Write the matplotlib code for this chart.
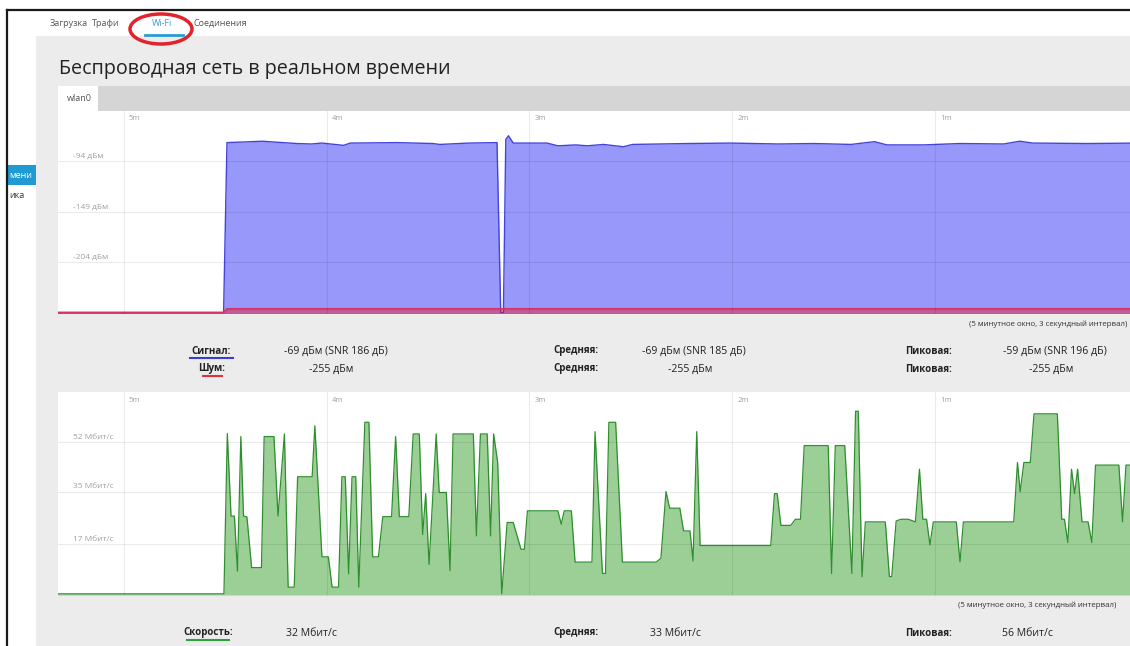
import matplotlib.pyplot as plt
from matplotlib.patches import Rectangle, Ellipse

plt.rcParams['font.family'] = ['Open Sans', 'DejaVu Sans']

W, H = 1130, 646

# time axis runs in seconds before "now"
minute_ticks = [300, 240, 180, 120, 60]
minute_labels = ['5m', '4m', '3m', '2m', '1m']

# wireless signal, dBm
signal_t = [320, 270.5, 269.5, 259, 255.1, 248.8, 244.5, 241.4, 235, 233,
            219.2, 208.6, 206.5, 198, 189.6, 188.5, 187.7, 187, 186.2, 184.8,
            174.8, 171.6, 166.3, 162.9, 158.1, 152.2, 149.5, 133.3, 120.4, 106.4,
            95.7, 84.9, 77.9, 74.2, 63.4, 52.6, 39.7, 34.9, 31.1, 15,
            0]
signal_dbm = [-259, -259, -73.5, -72, -73, -74.5, -75, -74, -76.5, -74,
              -73.5, -74.5, -75.5, -74, -73.5, -259, -259, -70, -66, -74,
              -74, -77, -76, -77, -75.5, -78, -75.5, -74.5, -74, -75,
              -74.5, -75.5, -72.5, -76, -76, -74.5, -75, -72, -74, -74.5,
              -74]

# noise floor, dBm
noise_t = [320, 270.5, 269.5, 0]
noise_dbm = [-259, -259, -255, -255]

dbm_ticks = [-94, -149, -204]
dbm_labels = ['-94 дБм', '-149 дБм', '-204 дБм']

# link rate, Mbit/s
rate_t = [320, 270.4, 269.4, 268.3, 267.3, 266.4, 265.4, 264.6, 263.6, 262.2,
          259.3, 258.5, 255.6, 254.4, 252.5, 251.4, 249.6, 248.6, 244.3, 243.5,
          241.4, 239.5, 238.4, 236.5, 235.5, 234.5, 233.5, 232.5, 231.4, 230.5,
          228.7, 227.5, 226.4, 224.7, 223.4, 220.8, 219.6, 218.5, 215.7, 214.4,
          212.6, 211.6, 210.7, 209.7, 207.6, 206.7, 204.6, 203.5, 202.6, 196.6,
          195.7, 194.5, 192.5, 191.5, 190.6, 189.4, 188.2, 186.6, 184.8, 182.5,
          181.5, 180.6, 171.6, 170.6, 169.7, 167.6, 166.5, 161.5, 160.6, 158.4,
          157.5, 156.5, 154.5, 152.5, 142.5, 141.1, 139.6, 138.5, 135.5, 134.4,
          132.5, 131.6, 130.5, 129.5, 108.6, 107.5, 106.7, 105.6, 102.7, 101.3,
          99.8, 98.7, 91.6, 90.6, 89.5, 86.7, 84.6, 83.5, 82.7, 81.6,
          80.6, 74.7, 73.5, 72.8, 71.5, 70.1, 67.9, 65.8, 64.6, 63.6,
          62.5, 61.5, 60.5, 53.7, 52.6, 51.6, 36.7, 35.6, 34.8, 33.7,
          31.8, 30.7, 23.8, 22.5, 21.7, 20.7, 19.6, 18.7, 17.8, 16.5,
          14.7, 13.6, 12.5, 5.6, 4.5, 3.5, 0]
rate_mbit = [0, 0, 55, 26.7, 26.7, 7.8, 54, 26.7, 26.4, 9,
             9, 54, 54, 26.7, 54.9, 2.3, 2.3, 40.2, 40.2, 57.7,
             12.7, 12.7, 2.3, 2.3, 40.2, 40.2, 6.9, 40.2, 40.2, 2.3,
             58.9, 58.9, 12.7, 12.7, 26.5, 26.5, 54, 26.5, 26.5, 54.9,
             54.9, 20.4, 34.4, 10.1, 54.9, 34.8, 34.8, 8, 54.9, 54.9,
             19.9, 54.9, 54.9, 19.9, 54.9, 45.1, 0, 24.5, 24.5, 15.3,
             15.3, 28.5, 28.5, 23.9, 28.5, 28.5, 10.9, 10.9, 55.7, 7,
             7, 58.9, 58.9, 10.9, 10.9, 12.2, 35.1, 29.4, 29.4, 21.6,
             21.6, 11.3, 55.7, 16.6, 16.6, 34.4, 34.4, 23.5, 23.5, 25.6,
             25.6, 50.9, 50.9, 7, 50.9, 50.9, 7, 62.7, 62.7, 5.9,
             24.7, 24.7, 5.9, 5.9, 25, 25.6, 25.6, 24.7, 42.8, 25.6,
             25.6, 16.8, 24.7, 24.7, 11, 24.7, 24.7, 45.1, 35.1, 45.1,
             45.1, 61.8, 61.8, 25.6, 25.6, 17.6, 42.8, 34.4, 42.8, 24.7,
             24.7, 17.6, 44.2, 44.2, 24.7, 44.2, 44.2]

rate_ticks = [17, 35, 52]
rate_labels = ['17 Мбит/с', '35 Мбит/с', '52 Мбит/с']

tab_names = ['Загрузка', 'Трафи', 'Wi-Fi', 'Соединения']

signal_row = ['Сигнал:', '-69 дБм (SNR 186 дБ)', 'Средняя:', '-69 дБм (SNR 185 дБ)',
              'Пиковая:', '-59 дБм (SNR 196 дБ)']
noise_row = ['Шум:', '-255 дБм', 'Средняя:', '-255 дБм', 'Пиковая:', '-255 дБм']
rate_row = ['Скорость:', '32 Мбит/с', 'Средняя:', '33 Мбит/с', 'Пиковая:', '56 Мбит/с']

window_note = '(5 минутное окно, 3 секундный интервал)'

GRID = dict(color='black', alpha=0.08, lw=0.8, zorder=3)
LABEL_GREY = '#a0a0a0'


def px_axes(fig, left, top, right, bottom):
    return fig.add_axes([left / W, 1 - bottom / H, (right - left) / W, (bottom - top) / H],
                        zorder=2)


def draw_page(page):
    page.set_xlim(0, W)
    page.set_ylim(H, 0)
    page.axis('off')

    page.add_patch(Rectangle((36, 36), W - 36, H - 36, color='#ececec', lw=0))
    page.add_patch(Rectangle((58, 86), W - 58, 25, color='#d5d5d5', lw=0))
    page.add_patch(Rectangle((58, 86), 40, 25, color='white', lw=0))
    page.text(67, 98.5, 'wlan0', fontsize=6.5, color='#555', va='center')

    page.plot([7, W], [10, 10], color='#1a1a1a', lw=1.6)
    page.plot([7, 7], [10, H], color='#1a1a1a', lw=1.6)

    # side menu, cut at the left edge
    page.add_patch(Rectangle((8, 165), 28, 20, color='#1f9bd1', lw=0))
    page.text(9, 175, 'мени', fontsize=6.5, color='white', va='center')
    page.text(9, 196, 'ика', fontsize=6.5, color='#333', va='center')

    # top tabs
    for name, x in zip(tab_names, [50, 92, 152, 193]):
        col = '#3a9fd6' if name == 'Wi-Fi' else '#555'
        page.text(x, 23, name, fontsize=6.5, color=col, va='center')
    page.plot([145, 183], [35, 35], color='#2a9dd4', lw=2)
    page.add_patch(Ellipse((161, 29), 62, 30, fill=False, ec='#e3232a', lw=2.5))

    page.text(59, 69, 'Беспроводная сеть в реальном времени', fontsize=14.2,
              color='#222', va='center')


def draw_stats_row(page, y, row, centers, underline=None):
    for i, (txt, cx) in enumerate(zip(row, centers)):
        bold = i % 2 == 0
        page.text(cx, y, txt, fontsize=7 if bold else 7.6, ha='center', va='center',
                  color='#222', fontweight='bold' if bold else 'normal')
    if underline:
        x0, x1, col = underline
        page.plot([x0, x1], [y + 7, y + 7], color=col, lw=1.5)


def draw_time_grid(ax):
    ax.set_xlim(319.5, 2.3)
    for t, lab in zip(minute_ticks, minute_labels):
        ax.axvline(t, **GRID)
        ax.annotate(lab, xy=(t, 1), xycoords=('data', 'axes fraction'),
                    xytext=(5, -8), textcoords='offset pixels',
                    fontsize=5.5, color=LABEL_GREY, va='center')


def draw_value_grid(ax, ticks, labels):
    for v, lab in zip(ticks, labels):
        ax.axhline(v, **GRID)
        ax.annotate(lab, xy=(0, v), xycoords=('axes fraction', 'data'),
                    xytext=(15, 5), textcoords='offset pixels',
                    fontsize=6, color=LABEL_GREY, va='center')


def style_chart(ax):
    ax.set_facecolor('white')
    for s in ax.spines.values():
        s.set_visible(False)
    ax.set_xticks([])
    ax.set_yticks([])


def plot_signal(ax):
    style_chart(ax)
    ax.set_ylim(-260, -39)
    ax.fill_between(signal_t, signal_dbm, -260, color='#9898fa', lw=0, zorder=1)
    ax.plot(signal_t, signal_dbm, color='#4444dd', lw=1, zorder=2)
    ax.fill_between(noise_t, noise_dbm, -260, color='red', alpha=0.4, lw=0, zorder=2)
    ax.plot(noise_t, noise_dbm, color='#d8336b', lw=1.4, zorder=2)
    draw_time_grid(ax)
    draw_value_grid(ax, dbm_ticks, dbm_labels)


def plot_rate(ax):
    style_chart(ax)
    ax.set_ylim(-0.4, 69.3)
    ax.fill_between(rate_t, rate_mbit, -0.4, color='#9bcf96', lw=0, zorder=1)
    ax.plot(rate_t, rate_mbit, color='#2f8f2f', lw=0.9, zorder=2)
    draw_time_grid(ax)
    draw_value_grid(ax, rate_ticks, rate_labels)


if __name__ == '__main__':
    fig = plt.figure(figsize=(W / 100, H / 100), dpi=100, facecolor='white')

    page = fig.add_axes([0, 0, 1, 1], zorder=0)
    draw_page(page)

    ax_signal = px_axes(fig, 58, 111, W, 313.5)
    plot_signal(ax_signal)

    ax_rate = px_axes(fig, 58, 392, W, 595)
    plot_rate(ax_rate)

    page.text(W - 3, 324, window_note, fontsize=5.7, color='#333', ha='right', va='center')
    draw_stats_row(page, 351, signal_row, [211, 336, 576, 694, 928, 1055],
                   underline=(190, 233, '#3b3bd6'))
    draw_stats_row(page, 369, noise_row, [212, 331, 576, 690, 928, 1051],
                   underline=(203, 222, '#e0303a'))

    page.text(958, 605, window_note, fontsize=5.7, color='#333', va='center')
    draw_stats_row(page, 633, rate_row, [208, 312, 576, 676, 928, 1028],
                   underline=(187, 229, '#2f9f3f'))

    fig.savefig('out.png', dpi=100)
